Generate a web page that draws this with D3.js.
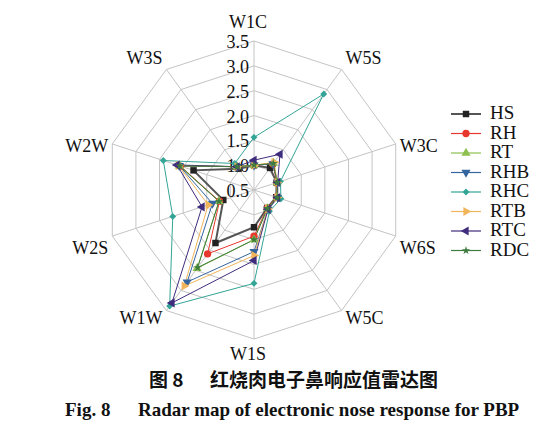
<!DOCTYPE html>
<html>
<head>
  <meta charset="UTF-8">
  <title>Radar map</title>
  <script src="https://cdnjs.cloudflare.com/ajax/libs/d3/7.8.5/d3.min.js"></script>
  <style>
    body { margin: 0; background: #fff; }
    .lbl { font: 18px "Liberation Serif", "DejaVu Serif", serif; fill: #111; }
    .cap { font-weight: bold; fill: #111; }
  </style>
</head>
<body>
<script>
  // axes, clockwise from top
  const axes = ["W1C", "W5S", "W3C", "W6S", "W5C", "W1S", "W1W", "W2S", "W2W", "W3S"];
  const ticks = [0.5, 1.0, 1.5, 2.0, 2.5, 3.0, 3.5];
  const seriesNames = ["HS", "RH", "RT", "RHB", "RHC", "RTB", "RTC", "RDC"];

  const HS  = [1.00, 1.05, 0.98, 0.97, 0.95, 1.25, 1.82, 1.15, 1.78, 1.03];
  const RH  = [1.00, 1.15, 0.98, 0.98, 0.95, 1.43, 2.09, 1.23, 2.06, 1.08];
  const RT  = [1.00, 1.17, 0.99, 0.99, 0.96, 1.50, 2.45, 1.24, 2.08, 1.08];
  const RHB = [1.00, 1.15, 1.00, 1.00, 0.98, 1.74, 2.79, 1.38, 2.08, 1.08];
  const RHC = [1.56, 2.89, 1.06, 1.07, 1.03, 2.38, 3.39, 2.22, 2.42, 1.16];
  const RTB = [1.00, 1.19, 0.99, 0.99, 0.97, 1.82, 2.89, 1.47, 2.10, 1.08];
  const RTC = [1.10, 1.39, 1.00, 1.00, 0.98, 1.92, 3.31, 1.60, 2.13, 1.08];
  const RDC = [1.00, 1.16, 0.99, 0.99, 0.96, 1.50, 2.43, 1.24, 2.07, 1.08];

  const values = [HS, RH, RT, RHB, RHC, RTB, RTC, RDC];
  const lineColors = ["#555555", "#e8382e", "#8dc04e", "#35659e", "#33a596", "#f0b55a", "#3f2c7c", "#3e7b3e"];
  const markColors = ["#222222", "#e8382e", "#8dc04e", "#35659e", "#33a596", "#f0b55a", "#3f2c7c", "#3e7b3e"];
  const shapes = [d3.symbolSquare, d3.symbolCircle, d3.symbolTriangle, d3.symbolTriangle,
                  d3.symbolDiamond2, d3.symbolTriangle, d3.symbolTriangle, d3.symbolStar];
  const rotations = [0, 0, 0, 180, 0, 90, -90, 0];
  const sizes = [42, 42, 36, 36, 30, 36, 36, 22];

  const W = 560, H = 444;
  const cx = 254, cy = 190, R = 149;

  const svg = d3.select("body").append("svg")
    .attr("width", W).attr("height", H);

  const r = d3.scaleLinear().domain([0.5, 3.5]).range([0, R]);
  const angle = d3.scalePoint().domain(axes).range([0, 2 * Math.PI * (axes.length - 1) / axes.length]);

  const pt = (a, v) => [cx + r(v) * Math.sin(angle(a)), cy - r(v) * Math.cos(angle(a))];

  // grid rings
  const grid = svg.append("g").attr("stroke", "#c4c4c4").attr("fill", "none").attr("stroke-width", 1);
  ticks.slice(1).forEach(t => {
    grid.append("polygon").attr("points", axes.map(a => pt(a, t).join(",")).join(" "));
  });
  axes.forEach(a => {
    const p = pt(a, 3.5);
    grid.append("line").attr("x1", cx).attr("y1", cy).attr("x2", p[0]).attr("y2", p[1]);
  });

  // tick labels
  svg.append("g").selectAll("text").data(ticks).join("text")
    .attr("class", "lbl")
    .attr("x", cx - 5)
    .attr("y", d => cy - r(d) + 3)
    .attr("text-anchor", "end")
    .attr("dominant-baseline", "middle")
    .text(d => d.toFixed(1));

  // axis labels
  svg.append("g").selectAll("text").data(axes).join("text")
    .attr("class", "lbl")
    .attr("x", a => {
      const s = Math.sin(angle(a));
      const p = pt(a, 3.5);
      if (Math.abs(s) < 0.1) return p[0] - 6;
      return p[0] + (s > 0 ? 4 : -4);
    })
    .attr("y", a => {
      const c = Math.cos(angle(a));
      const p = pt(a, 3.5);
      if (Math.abs(c) > 0.99) return p[1] - c * 17;
      if (Math.abs(c) > 0.5) return p[1] - c * 12;
      return p[1] + (c > 0 ? 4 : 14);
    })
    .attr("text-anchor", a => {
      const s = Math.sin(angle(a));
      return Math.abs(s) < 0.1 ? "middle" : (s > 0 ? "start" : "end");
    })
    .attr("dominant-baseline", "middle")
    .text(a => a);

  // series
  const line = d3.lineRadial()
    .angle((d, i) => angle(axes[i]))
    .radius(d => r(d))
    .curve(d3.curveLinearClosed);

  const plot = svg.append("g").attr("transform", `translate(${cx},${cy})`);
  values.forEach((vals, k) => {
    plot.append("path")
      .attr("d", line(vals))
      .attr("fill", "none")
      .attr("stroke", lineColors[k])
      .attr("stroke-width", k === 0 ? 2 : 1);
  });
  values.forEach((vals, k) => {
    plot.append("g").selectAll("path").data(vals).join("path")
      .attr("d", d3.symbol().type(shapes[k]).size(sizes[k]))
      .attr("transform", (d, i) => {
        const p = pt(axes[i], d);
        return `translate(${p[0] - cx},${p[1] - cy}) rotate(${rotations[k]})`;
      })
      .attr("fill", markColors[k]);
  });

  // legend
  const lg = svg.append("g").attr("transform", "translate(451,114)");
  seriesNames.forEach((n, k) => {
    const g = lg.append("g").attr("transform", `translate(0,${k * 19.5})`);
    g.append("line").attr("x1", 0).attr("x2", 30).attr("y1", 0).attr("y2", 0)
      .attr("stroke", lineColors[k]).attr("stroke-width", k === 0 ? 2 : 1.2);
    g.append("path")
      .attr("d", d3.symbol().type(shapes[k]).size(sizes[k]))
      .attr("transform", `translate(15,0) rotate(${rotations[k]})`)
      .attr("fill", markColors[k]);
    g.append("text").attr("class", "lbl").attr("x", 39).attr("y", 1)
      .attr("dominant-baseline", "middle").style("font-size", "19px").text(n);
  });

  // captions
  svg.append("text").attr("class", "cap")
    .attr("x", 149).attr("y", 382).attr("dominant-baseline", "middle")
    .style("font-family", '"Noto Sans CJK SC", sans-serif').style("font-size", "19px")
    .text("图 8");
  svg.append("text").attr("class", "cap")
    .attr("x", 210).attr("y", 382).attr("dominant-baseline", "middle")
    .style("font-family", '"Noto Sans CJK SC", sans-serif').style("font-size", "19px")
    .text("红烧肉电子鼻响应值雷达图");
  svg.append("text").attr("class", "cap lbl")
    .attr("x", 65).attr("y", 412).attr("dominant-baseline", "middle")
    .style("font-weight", "bold").style("font-size", "19px")
    .text("Fig. 8");
  svg.append("text").attr("class", "cap lbl")
    .attr("x", 138).attr("y", 412).attr("dominant-baseline", "middle")
    .style("font-weight", "bold").style("font-size", "19px")
    .text("Radar map of electronic nose response for PBP");
</script>
</body>
</html>
